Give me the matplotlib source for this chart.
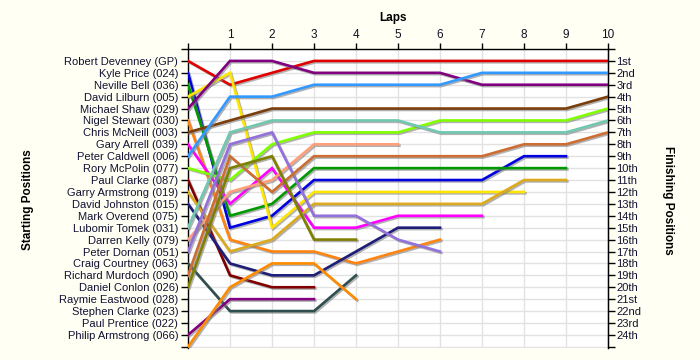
import matplotlib
matplotlib.use("Agg")
import matplotlib.pyplot as plt
import matplotlib.patheffects as pe

# ---- data ----
start_names = ["Robert Devenney (GP)", "Kyle Price (024)", "Neville Bell (036)",
               "David Lilburn (005)", "Michael Shaw (029)", "Nigel Stewart (030)",
               "Chris McNeill (003)", "Gary Arrell (039)", "Peter Caldwell (006)",
               "Rory McPolin (077)", "Paul Clarke (087)", "Garry Armstrong (019)",
               "David Johnston (015)", "Mark Overend (075)", "Lubomir Tomek (031)",
               "Darren Kelly (079)", "Peter Dornan (051)", "Craig Courtney (063)",
               "Richard Murdoch (090)", "Daniel Conlon (026)", "Raymie Eastwood (028)",
               "Stephen Clarke (023)", "Paul Prentice (022)", "Philip Armstrong (066)"]
finish_labels = ["1st", "2nd", "3rd", "4th", "5th", "6th", "7th", "8th", "9th", "10th",
                 "11th", "12th", "13th", "14th", "15th", "16th", "17th", "18th", "19th",
                 "20th", "21st", "22nd", "23rd", "24th"]
lap_labels = ["", "1", "2", "3", "4", "5", "6", "7", "8", "9", "10"]

robert_devenney = [1, 3, 2, 1, 1, 1, 1, 1, 1, 1, 1]
kyle_price = [2, 15, 14, 11, 11, 11, 11, 11, 9, 9]
neville_bell = [3, 14, 13, 10, 10, 10, 10, 10, 10, 10]
david_lilburn = [4, 2, 15, 12, 12, 12, 12, 12, 12]
michael_shaw = [5, 1, 1, 2, 2, 2, 2, 3, 3, 3, 3]
nigel_stewart = [6, 16, 17, 17, 18, 17, 16]
chris_mcneill = [7, 6, 5, 5, 5, 5, 5, 5, 5, 5, 4]
gary_arrell = [8, 13, 10, 15, 15, 14, 14, 14]
peter_caldwell = [9, 4, 4, 3, 3, 3, 3, 2, 2, 2, 2]
rory_mcpolin = [10, 11, 8, 7, 7, 7, 6, 6, 6, 6, 5]
paul_clarke = [11, 19, 20, 20]
garry_armstrong = [12, 17, 16, 13, 13, 13, 13, 13, 11, 11]
david_johnston = [13, 18, 19, 19, 17, 15, 15]
lubomir_tomek = [15, 7, 6, 6, 6, 6, 7, 7, 7, 7, 6]
darren_kelly = [16, 12, 11, 8, 8, 8]
peter_dornan = [17, 8, 7, 14, 14, 16, 17]
craig_courtney = [18, 22, 22, 22, 19]
richard_murdoch = [19, 9, 12, 9, 9, 9, 9, 9, 8, 8, 7]
daniel_conlon = [20, 10, 9, 16, 16]
philip_armstrong = [24, 21, 21, 21]
unlisted_driver = [25, 20, 18, 18, 21]

series = [
    (robert_devenney, "#e00000"),
    (kyle_price, "#0000e0"),
    (neville_bell, "#009a00"),
    (david_lilburn, "#ffe600"),
    (michael_shaw, "#800080"),
    (nigel_stewart, "#ff8410"),
    (chris_mcneill, "#7a3e0c"),
    (gary_arrell, "#ff00ff"),
    (peter_caldwell, "#3399ff"),
    (rory_mcpolin, "#80ff00"),
    (paul_clarke, "#800000"),
    (garry_armstrong, "#dcaa1e"),
    (david_johnston, "#1e1e78"),
    (lubomir_tomek, "#70c8b0"),
    (darren_kelly, "#ffa07a"),
    (peter_dornan, "#9370db"),
    (craig_courtney, "#2f4f4f"),
    (richard_murdoch, "#cc6e33"),
    (daniel_conlon, "#808000"),
    (philip_armstrong, "#800080"),
    (unlisted_driver, "#ff8c00"),
]

# ---- figure ----
plt.rcParams['font.family'] = ['Liberation Sans', 'DejaVu Sans']
fig = plt.figure(figsize=(7, 3.6), dpi=100, facecolor="#fffff4")
ax = fig.add_axes([188/700, 1-348/360, 420/700, 299/360])
ax.set_facecolor("#ffffff")

shadow = [pe.SimpleLineShadow(offset=(1, -1), shadow_color="gray", alpha=0.6), pe.Normal()]
for vals, col in series:
    ax.plot(range(len(vals)), vals, color=col, lw=1.9, solid_joinstyle="miter",
            path_effects=shadow, zorder=3)

ax.set_xlim(0, 10)
ax.set_ylim(25.1, 0)
ax.set_xticks(range(11))
ax.set_xticklabels(lap_labels)
ax.xaxis.tick_top()
ax.xaxis.set_label_position("top")
ax.set_yticks(range(26))
ax.set_yticklabels([""] + start_names + [""])
ax.grid(True, color="#e2e2e2", lw=1.0, zorder=0)
ax.set_axisbelow(True)
ax.spines["bottom"].set_visible(False)
for s in ["top", "left", "right"]:
    ax.spines[s].set_color("black")
    ax.spines[s].set_linewidth(1.0)
ax.tick_params(axis="x", top=True, bottom=False, length=4, width=1, pad=2,
               labelsize=8.5, labelcolor="#111122")
ax.tick_params(axis="y", length=5, width=1, pad=2, labelsize=8, labelcolor="#111133")

ax2 = ax.twinx()
ax2.set_ylim(25.1, 0)
ax2.set_yticks(range(26))
ax2.set_yticklabels([""] + finish_labels + [""])
ax2.tick_params(axis="y", length=5, width=1, pad=1, labelsize=8, labelcolor="#111133")
ax2.spines["bottom"].set_visible(False)
ax2.spines["top"].set_visible(False)
ax2.spines["left"].set_visible(False)

fig.text(393/700, 1-18/360, "Laps", ha="center", va="center", fontsize=8.5,
         fontweight="bold")
fig.text(28/700, 1-200/360, "Starting Positions", ha="center", va="center",
         rotation=90, fontsize=8.5, fontweight="bold")
fig.text(668/700, 1-200/360, "Finishing Positions", ha="center", va="center",
         rotation=270, fontsize=8.5, fontweight="bold")

fig.savefig("out.png", dpi=100, facecolor=fig.get_facecolor())
